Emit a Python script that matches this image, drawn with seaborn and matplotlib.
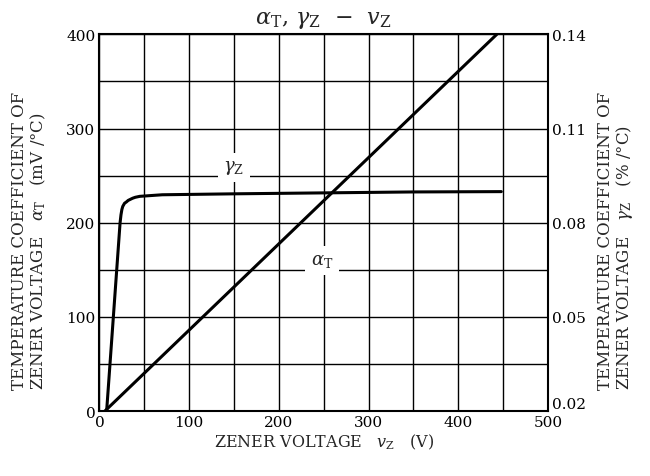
import matplotlib
matplotlib.use("Agg")
import matplotlib.pyplot as plt
from matplotlib.ticker import MultipleLocator
from matplotlib.transforms import ScaledTranslation
import seaborn as sns
import pandas as pd

# alpha_T (mV/°C) vs zener voltage, left axis
alpha_v = [6, 443]
alpha_t = [0, 400]

# gamma_Z (%/°C) vs zener voltage, right axis
gamma_v = [8, 23, 24, 25, 26, 28, 30, 32, 37, 40, 45, 70, 150, 250, 350, 448]
gamma_z = [0.020, 0.080, 0.0825, 0.0842, 0.0852, 0.0862, 0.0866, 0.0871, 0.0878,
           0.0881, 0.0884, 0.0889, 0.0892, 0.0895, 0.0898, 0.0899]

x_ticks = [0, 100, 200, 300, 400, 500]
left_ticks = [0, 100, 200, 300, 400]
right_ticks = [0.02, 0.05, 0.08, 0.11, 0.14]

sns.set_theme(style="white")
plt.rcParams["font.family"] = ["DejaVu Serif"]
plt.rcParams["mathtext.fontset"] = "dejavuserif"

fig = plt.figure(figsize=(6.5, 4.77), dpi=100)
ax = fig.add_axes([0.153, 0.136, 0.69, 0.79])

df_a = pd.DataFrame({"v": alpha_v, "a": alpha_t})
sns.lineplot(data=df_a, x="v", y="a", ax=ax, color="black", lw=2.2)

ax.set_xlim(0, 500)
ax.set_ylim(0, 400)
ax.set_xticks(x_ticks)
ax.set_yticks(left_ticks)
ax.xaxis.set_minor_locator(MultipleLocator(50))
ax.yaxis.set_minor_locator(MultipleLocator(50))
ax.grid(True, which="both", color="black", lw=1.0)
ax.set_axisbelow(True)
ax.tick_params(which="both", length=0, labelsize=11, colors="black", pad=3)
for s in ax.spines.values():
    s.set_color("black")
    s.set_linewidth(1.5)

ax2 = ax.twinx()
df_g = pd.DataFrame({"v": gamma_v, "g": gamma_z})
sns.lineplot(data=df_g, x="v", y="g", ax=ax2, color="black", lw=2.2)
ax2.set_ylim(0.02, 0.14)
ax2.set_yticks(right_ticks)
ax2.set_yticklabels([f"{t:.2f}" for t in right_ticks])
ax2.tick_params(length=0, labelsize=11, colors="black", pad=3)
ax2.grid(False)
for s in ax2.spines.values():
    s.set_visible(False)
# lift the bottom right label a little, like the reference
lbl = ax2.get_yticklabels()[0]
lbl.set_transform(lbl.get_transform() + ScaledTranslation(0, 6 / 72, fig.dpi_scale_trans))

# curve labels sitting on grid crossings
box = dict(facecolor="white", edgecolor="none", pad=4)
ax.text(150, 259, r"$\gamma_{\rm Z}$", fontsize=13, ha="center", va="center", bbox=box, zorder=3)
ax.text(248, 160, r"$\alpha_{\rm T}$", fontsize=13, ha="center", va="center", bbox=box, zorder=3)

ax.set_title(r"$\alpha_{\rm T}$, $\gamma_{\rm Z}$  $-$  $v_{\rm Z}$", fontsize=16, pad=8)
ax.set_xlabel(r"ZENER VOLTAGE   $v_{\rm Z}$   (V)", fontsize=11.5)
ax.set_ylabel("TEMPERATURE COEFFICIENT OF\n"
              r"ZENER VOLTAGE   $\alpha_{\rm T}$   (mV /°C)",
              fontsize=12, multialignment="left", linespacing=1.0)
ax2.set_ylabel("TEMPERATURE COEFFICIENT OF\n"
               r"ZENER VOLTAGE   $\gamma_{\rm Z}$   (% /°C)",
               fontsize=12, multialignment="left", linespacing=1.0, rotation=90)
ax.xaxis.set_label_coords(0.5, -0.055)
ax.yaxis.set_label_coords(-0.115, 0.455)
ax2.yaxis.set_label_coords(1.11, 0.455)

fig.savefig("out.png", dpi=100)
